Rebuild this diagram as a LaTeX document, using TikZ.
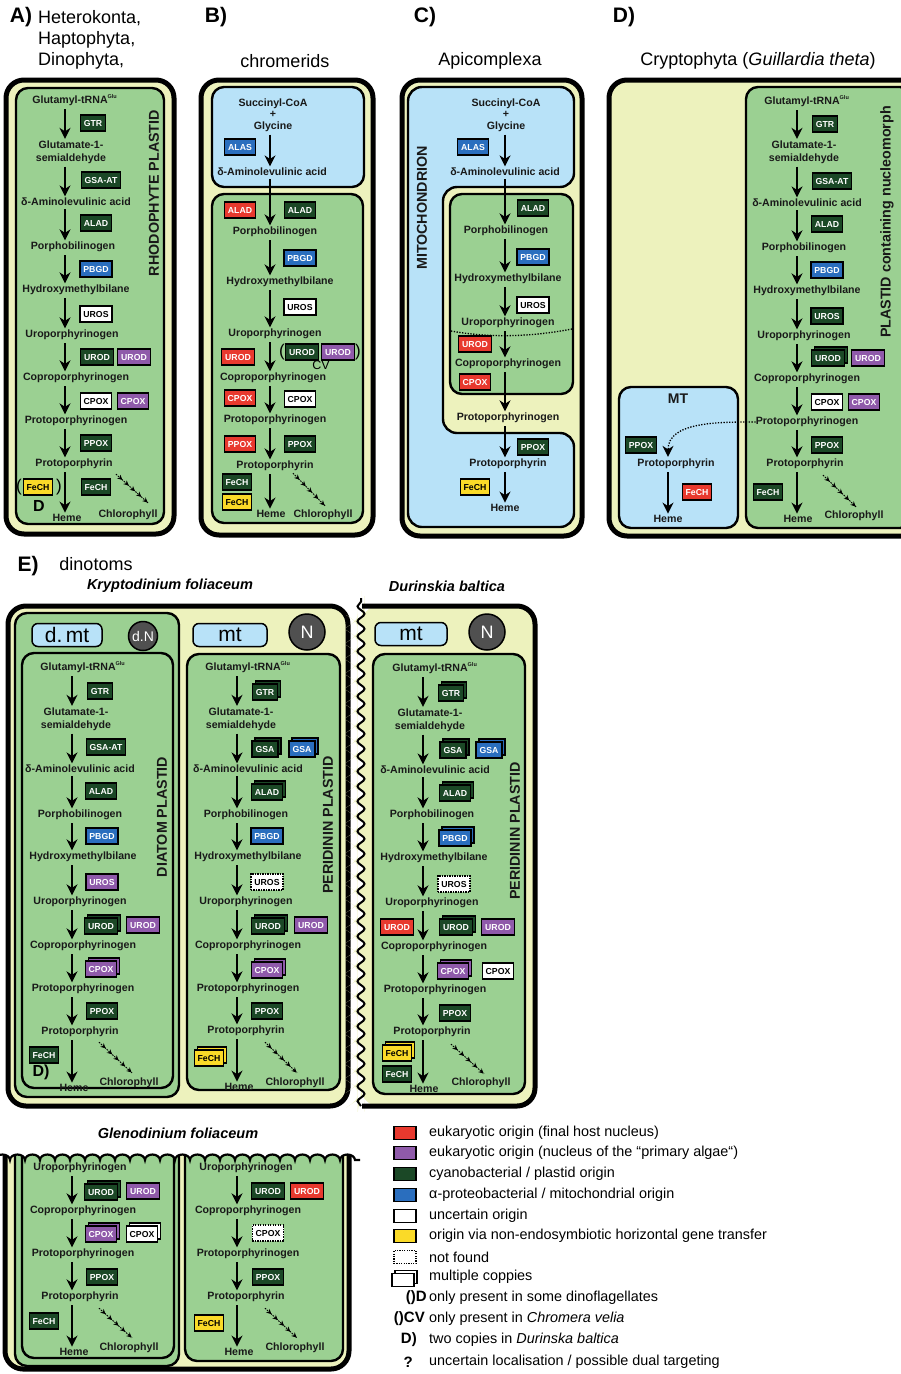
\documentclass[tikz,border=0pt]{standalone}
\usepackage{fontspec}
\setmainfont{Liberation Sans}
\usetikzlibrary{arrows.meta,shadows,decorations.pathmorphing,decorations.markings}

\newcommand{\gluSup}{\rlap{\smash{\raisebox{5.5pt}{\fontsize{5.5}{6}\selectfont Glu}}}}

\begin{document}
\begin{tikzpicture}[x=1pt,y=-1pt,
  cmp/.style={font=\bfseries\fontsize{10.6}{13}\selectfont, align=center, inner sep=0pt, text=ink},
  ez/.style={draw=black, line width=1.2pt, font=\bfseries\fontsize{8.7}{9}\selectfont, text=white,
             inner xsep=3.5pt, inner ysep=0pt, minimum height=16pt, text height=6.3pt, text depth=0pt},
  ezG/.style={ez, fill=cyano},
  ezP/.style={ez, fill=prim},
  ezR/.style={ez, fill=host},
  ezB/.style={ez, fill=alpha},
  ezW/.style={ez, fill=white, text=black},
  ezY/.style={ez, fill=hgt, text=black},
  multi/.style={copy shadow={shadow xshift=3pt, shadow yshift=3pt}},
  ezGm/.style={ezG, multi}, ezPm/.style={ezP, multi}, ezBm/.style={ezB, multi},
  ezYm/.style={ezY, multi}, ezWm/.style={ezW, multi},
  nf/.style={ezW, dash pattern=on 1.4pt off 1.1pt},
  stepar/.style={line width=1.6pt, -{Stealth[length=11pt, width=11pt, inset=3.5pt]}, shorten <=3pt, shorten >=1.5pt},
  chlar/.style={line width=0.9pt, dash pattern=on 1.6pt off 1pt,
    decoration={markings, mark=between positions 0.2 and 0.99 step 0.197 with {\arrow{Stealth[length=5pt, width=5pt]}}},
    postaction={decorate}},
  dotar/.style={line width=1.3pt, dash pattern=on 1.3pt off 1.5pt, -{Stealth[length=11pt, width=11pt, inset=3.5pt]}, shorten >=2pt},
  cell/.style={draw=black, line width=5pt, fill=cytyel, rounded corners=18pt},
  memb/.style={draw=black, line width=2.4pt, rounded corners=12pt},
  rotlab/.style={rotate=90, font=\bfseries\fontsize{14.3}{15}\selectfont, inner sep=0pt, text=ink},
  hdr/.style={font=\fontsize{18}{21}\selectfont, inner sep=0pt},
  tag/.style={font=\bfseries\fontsize{21}{21}\selectfont, inner sep=0pt},
  ttl/.style={font=\bfseries\itshape\fontsize{14.5}{15}\selectfont, inner sep=0pt},
  orgbox/.style={draw=black, line width=1.5pt, fill=mitblue, rounded corners=6pt, minimum height=23pt,
                 inner sep=0pt, font=\fontsize{21}{21}\selectfont},
  nuc/.style={circle, draw=black, line width=1.5pt, fill=nucgray, text=white, inner sep=0pt},
  note/.style={font=\bfseries\fontsize{15}{15}\selectfont, inner sep=0pt},
  lgbox/.style={draw=black, line width=1.3pt, minimum width=22pt, minimum height=13pt, inner sep=0pt},
  lgtxt/.style={font=\fontsize{14.4}{15}\selectfont, inner sep=0pt, anchor=west},
  wavy/.style={decorate, decoration={snake, amplitude=3.5pt, segment length=15pt}},
  bumpy/.style={decorate, decoration={bumps, amplitude=5.5pt, segment length=30pt}}]
  \definecolor{cytyel}{RGB}{237,242,189}
  \definecolor{plgreen}{RGB}{155,208,146}
  \definecolor{mitblue}{RGB}{184,226,248}
  \definecolor{cyano}{RGB}{27,72,38}
  \definecolor{prim}{RGB}{143,90,170}
  \definecolor{host}{RGB}{232,57,46}
  \definecolor{alpha}{RGB}{42,110,190}
  \definecolor{hgt}{RGB}{250,218,40}
  \definecolor{nucgray}{RGB}{80,80,80}
  \definecolor{ink}{RGB}{25,25,25}
  \useasboundingbox (0,0) rectangle (901,1374);

  % ---------- A) red algal plastid
  \node[tag] (aTag) at (21,17) {A)};
  \node[hdr, anchor=north west, align=left] (aHead) at (38,10) {Heterokonta,\\Haptophyta,\\Dinophyta,};
  \draw[cell] (6,80) rectangle (174,534);
  \draw[memb, fill=plgreen] (16,88) rectangle (164,524);
  \node[rotlab] (aLab) at (154,193) {RHODOPHYTE PLASTID};
  \coordinate (ax) at (65,0);
  \foreach \xx/\yy/\nm/\tx in {70/101/a1/{Glutamyl-tRNA\gluSup}, 71/152/a2/{Glutamate-1-\\semialdehyde},
      76/202/a3/{δ-Aminolevulinic acid}, 73/247/a4/Porphobilinogen, 76/290/a5/Hydroxymethylbilane,
      72/335/a6/Uroporphyrinogen, 76/378/a7/Coproporphyrinogen, 76/421/a8/Protoporphyrinogen,
      74/464/a9/Protoporphyrin, 67/518/a10/Heme, 128/515/a11/Chlorophyll}
    \node[cmp] (\nm) at (\xx,\yy) {\tx};
  \foreach \p/\q in {a1/a2,a2/a3,a3/a4,a4/a5,a5/a6,a6/a7,a7/a8,a8/a9,a9/a10}
    \draw[stepar] (ax |- \p.south) -- (ax |- \q.north);
  \draw[chlar] ([shift={(42,5)}]a9.south) -- ([shift={(20,-7)}]a11.north);
  \foreach \xx/\yy/\st/\tx [count=\i] in {93/123/ezG/GTR, 101/180/ezG/GSA-AT, 96/223/ezG/ALAD,
      96/269/ezB/PBGD, 96/314/ezW/UROS, 97/357/ezG/UROD, 134/357/ezP/UROD, 96/401/ezW/CPOX,
      133/401/ezP/CPOX, 96/443/ezG/PPOX, 96/487/ezG/FeCH, 38/487/ezY/FeCH}
    \node[\st] (aE\i) at (\xx,\yy) {\tx};
  \node[font=\fontsize{17}{17}\selectfont, inner sep=0pt] (aPl) at (19,487) {(};
  \node[font=\fontsize{17}{17}\selectfont, inner sep=0pt] (aPr) at (59,487) {)};
  \node[note, font=\bfseries\fontsize{16}{16}\selectfont] (aD) at (39,506) {D};

  % ---------- B) chromerids
  \node[tag] (bTag) at (216,17) {B)};
  \node[hdr] (bHead) at (285,61) {chromerids};
  \draw[cell] (201,80) rectangle (373,535);
  \draw[memb, fill=mitblue] (212,87) rectangle (364,187);
  \draw[memb, fill=plgreen] (212,194) rectangle (363,523);
  \coordinate (bx) at (270,0);
  \foreach \xx/\yy/\nm/\tx in {273/115/b1/{Succinyl-CoA\\[-1.5pt]+\\[-1.5pt]Glycine}, 272/172/b2/{δ-Aminolevulinic acid},
      275/232/b3/Porphobilinogen, 280/282/b4/Hydroxymethylbilane, 275/334/b5/Uroporphyrinogen,
      273/378/b6/Coproporphyrinogen, 275/420/b7/Protoporphyrinogen, 275/466/b8/Protoporphyrin,
      271/514/b9/Heme, 323/515/b10/Chlorophyll}
    \node[cmp] (\nm) at (\xx,\yy) {\tx};
  \foreach \p/\q in {b1/b2,b2/b3,b3/b4,b4/b5,b5/b6,b6/b7,b7/b8,b8/b9}
    \draw[stepar] (bx |- \p.south) -- (bx |- \q.north);
  \draw[chlar] ([shift={(18,2)}]b8.south) -- ([shift={(2,-4)}]b10.north);
  \foreach \xx/\yy/\st/\tx [count=\i] in {240/147/ezB/ALAS, 240/210/ezR/ALAD, 300/210/ezG/ALAD,
      300/258/ezB/PBGD, 300/307/ezW/UROS, 238/357/ezR/UROD, 302/352/ezG/UROD, 338/352/ezP/UROD,
      240/398/ezR/CPOX, 300/399/ezW/CPOX, 240/444/ezR/PPOX, 300/444/ezG/PPOX,
      237/482/ezG/FeCH, 237/502/ezY/FeCH}
    \node[\st] (bE\i) at (\xx,\yy) {\tx};
  \node[font=\fontsize{17}{17}\selectfont, inner sep=0pt] (bPl) at (282,352) {(};
  \node[font=\fontsize{17}{17}\selectfont, inner sep=0pt] (bPr) at (358,352) {)};
  \node[font=\fontsize{12.5}{12.5}\selectfont, inner sep=0pt] (bCV) at (321,365.5) {CV};

  % ---------- C) Apicomplexa
  \node[tag] (cTag) at (425,17) {C)};
  \node[hdr] (cHead) at (490,61) {Apicomplexa};
  \draw[cell] (402,80) rectangle (582,536);
  \draw[memb, fill=mitblue, rounded corners=14pt] (408,300) -- (408,87) -- (574,87) -- (574,187) -- (443,187)
    -- (443,433) -- (574,433) -- (574,527) -- (408,527) -- cycle;
  \draw[memb, fill=plgreen] (450,194) rectangle (573,394);
  \node[rotlab] (cLab) at (422,208) {MITOCHONDRION};
  \coordinate (cx) at (505,0);
  \foreach \xx/\yy/\nm/\tx in {506/115/c1/{Succinyl-CoA\\[-1.5pt]+\\[-1.5pt]Glycine}, 505/172/c2/{δ-Aminolevulinic acid},
      506/231/c3/Porphobilinogen, 508/279/c4/Hydroxymethylbilane, 508/323/c5/Uroporphyrinogen,
      508/364/c6/Coproporphyrinogen, 508/418/c7/Protoporphyrinogen, 508/464/c8/Protoporphyrin,
      505/508/c9/Heme}
    \node[cmp] (\nm) at (\xx,\yy) {\tx};
  \foreach \p/\q in {c1/c2,c2/c3,c3/c4,c4/c5,c5/c6,c6/c7,c7/c8,c8/c9}
    \draw[stepar] (cx |- \p.south) -- (cx |- \q.north);
  \draw[line width=1.3pt, dash pattern=on 1.3pt off 1.5pt] (451,331) .. controls (490,338) and (530,337) .. (572,329);
  \foreach \xx/\yy/\st/\tx [count=\i] in {473/147/ezB/ALAS, 533/208/ezG/ALAD, 533/257/ezB/PBGD,
      533/305/ezW/UROS, 475/344/ezR/UROD, 475/382/ezR/CPOX, 533/447/ezG/PPOX, 475/487/ezY/FeCH}
    \node[\st] (cE\i) at (\xx,\yy) {\tx};

  % ---------- D) Cryptophyta
  \node[tag] (dTag) at (624,17) {D)};
  \node[hdr] (dHead) at (758,61) {Cryptophyta (\textit{Guillardia theta})};
  \draw[cell] (609,80) rectangle (920,536);
  \draw[memb, fill=plgreen] (746,87) rectangle (912,528);
  \draw[memb, fill=mitblue] (619,387) rectangle (738,528);
  \node[rotlab] (dLab) at (887,222) {PLASTID containing nucleomorph};
  \coordinate (dx) at (797,0);
  \foreach \xx/\yy/\nm/\tx in {802/102/d1/{Glutamyl-tRNA\gluSup}, 804/152/d2/{Glutamate-1-\\semialdehyde},
      807/203/d3/{δ-Aminolevulinic acid}, 804/248/d4/Porphobilinogen, 807/291/d5/Hydroxymethylbilane,
      804/336/d6/Uroporphyrinogen, 807/379/d7/Coproporphyrinogen, 807/422/d8/Protoporphyrinogen,
      805/464/d9/Protoporphyrin, 798/519/d10/Heme, 854/516/d11/Chlorophyll}
    \node[cmp] (\nm) at (\xx,\yy) {\tx};
  \foreach \p/\q in {d1/d2,d2/d3,d3/d4,d4/d5,d5/d6,d6/d7,d7/d8,d8/d9,d9/d10}
    \draw[stepar] (dx |- \p.south) -- (dx |- \q.north);
  \draw[chlar] ([shift={(18,6)}]d9.south) -- ([shift={(2,-4)}]d11.north);
  \node[cmp, font=\bfseries\fontsize{14}{14}\selectfont] (m1) at (678,399) {MT};
  \node[cmp] (m2) at (676,464) {Protoporphyrin};
  \node[cmp] (m3) at (668,519) {Heme};
  \coordinate (mx) at (668,0);
  \draw[stepar] (mx |- m2.south) -- (mx |- m3.north);
  \draw[dotar] (d8.west) to[out=180, in=90] (mx |- m2.north);
  \foreach \xx/\yy/\st/\tx [count=\i] in {825/124/ezG/GTR, 832/181/ezG/GSA-AT, 827/224/ezG/ALAD,
      827/270/ezB/PBGD, 827/316/ezG/UROS, 828/358/ezGm/UROD, 868/358/ezP/UROD, 827/402/ezW/CPOX,
      864/402/ezP/CPOX, 827/445/ezG/PPOX, 768/492/ezG/FeCH, 641/445/ezG/PPOX, 697/492/ezR/FeCH}
    \node[\st] (dE\i) at (\xx,\yy) {\tx};

  % ---------- E) dinotoms
  \node[tag] (eTag) at (28,566) {E)};
  \node[hdr] (eHead) at (96,564) {dinotoms};
  \node[ttl] (kTitle) at (170,586) {Kryptodinium foliaceum};
  \node[ttl] (uTitle) at (447,586) {Durinskia baltica};

  % Kryptodinium cell
  \draw[cell] (8,606) rectangle (348,1106);
  \draw[memb, fill=plgreen] (15,613) rectangle (179,1097);
  \draw[memb, fill=plgreen] (22,653) rectangle (173,1088);
  \draw[memb, fill=plgreen] (187,654) rectangle (340,1090);
  \node[orgbox, minimum width=70pt] (kdmt) at (67,635) {d.\,mt};
  \node[nuc, minimum size=29pt, font=\fontsize{14}{14}\selectfont] (kdN) at (143,636) {d.N};
  \node[orgbox, minimum width=74pt] (kmt) at (230,635) {mt};
  \node[nuc, minimum size=36pt, font=\fontsize{18}{18}\selectfont] (kN) at (307,632) {N};
  \node[rotlab] (kLab) at (162,817) {DIATOM PLASTID};
  \node[rotlab] (rLab) at (328,825) {PERIDININ PLASTID};
  \coordinate (kx) at (72,0);
  \foreach \xx/\yy/\nm/\tx in {78/668/k1/{Glutamyl-tRNA\gluSup}, 76/719/k2/{Glutamate-1-\\semialdehyde},
      80/769/k3/{δ-Aminolevulinic acid}, 80/815/k4/Porphobilinogen, 83/857/k5/Hydroxymethylbilane,
      80/902/k6/Uroporphyrinogen, 83/946/k7/Coproporphyrinogen, 83/989/k8/Protoporphyrinogen,
      80/1032/k9/Protoporphyrin, 74/1088/k10/Heme, 129/1083/k11/Chlorophyll}
    \node[cmp] (\nm) at (\xx,\yy) {\tx};
  \foreach \p/\q in {k1/k2,k2/k3,k3/k4,k4/k5,k5/k6,k6/k7,k7/k8,k8/k9,k9/k10}
    \draw[stepar] (kx |- \p.south) -- (kx |- \q.north);
  \draw[chlar] ([shift={(19,5)}]k9.south) -- ([shift={(3,-5)}]k11.north);
  \foreach \xx/\yy/\st/\tx [count=\i] in {100/691/ezG/GTR, 106/747/ezG/GSA-AT, 101/791/ezG/ALAD,
      102/836/ezB/PBGD, 102/882/ezP/UROS, 101/926/ezGm/UROD, 143/925/ezP/UROD, 101/969/ezPm/CPOX,
      102/1011/ezG/PPOX, 44/1055/ezG/FeCH}
    \node[\st] (kE\i) at (\xx,\yy) {\tx};
  \node[note, font=\bfseries\fontsize{16}{16}\selectfont] (kD) at (41,1072) {D)};
  \coordinate (rx) at (237,0);
  \foreach \xx/\yy/\nm/\tx in {243/668/r1/{Glutamyl-tRNA\gluSup}, 241/719/r2/{Glutamate-1-\\semialdehyde},
      248/769/r3/{δ-Aminolevulinic acid}, 246/815/r4/Porphobilinogen, 248/857/r5/Hydroxymethylbilane,
      246/902/r6/Uroporphyrinogen, 248/946/r7/Coproporphyrinogen, 248/989/r8/Protoporphyrinogen,
      246/1031/r9/Protoporphyrin, 239/1087/r10/Heme, 295/1083/r11/Chlorophyll}
    \node[cmp] (\nm) at (\xx,\yy) {\tx};
  \foreach \p/\q in {r1/r2,r2/r3,r3/r4,r4/r5,r5/r6,r6/r7,r7/r8,r8/r9,r9/r10}
    \draw[stepar] (rx |- \p.south) -- (rx |- \q.north);
  \draw[chlar] ([shift={(19,6)}]r9.south) -- ([shift={(2,-5)}]r11.north);
  \foreach \xx/\yy/\st/\tx [count=\i] in {265/692/ezGm/GTR, 265/749/ezGm/GSA, 302/749/ezBm/GSA,
      267/792/ezGm/ALAD, 267/836/ezB/PBGD, 267/882/nf/UROS, 268/926/ezGm/UROD, 311/925/ezP/UROD,
      267/970/ezPm/CPOX, 267/1011/ezG/PPOX, 209/1058/ezYm/FeCH}
    \node[\st] (rE\i) at (\xx,\yy) {\tx};

  % Durinskia cell (cut on the left)
  \fill[cytyel, rounded corners=18pt] (361,1106) decorate[decoration={snake, amplitude=3.5pt, segment length=15pt}] {-- (361,606)}
    -- (535,606) -- (535,1106) -- cycle;
  \draw[line width=5pt, rounded corners=18pt] (362,606) -- (535,606) -- (535,1106) -- (362,1106);
  \draw[line width=2pt, wavy] (361,1106) -- (361,598);
  \draw[memb, fill=plgreen] (373,654) rectangle (525,1094);
  \node[orgbox, minimum width=72pt] (umt) at (411,634) {mt};
  \node[nuc, minimum size=36pt, font=\fontsize{18}{18}\selectfont] (uN) at (487,632) {N};
  \node[rotlab] (uLab) at (515,831) {PERIDININ PLASTID};
  \coordinate (ux) at (423,0);
  \foreach \xx/\yy/\nm/\tx in {430/669/u1/{Glutamyl-tRNA\gluSup}, 430/720/u2/{Glutamate-1-\\semialdehyde},
      435/770/u3/{δ-Aminolevulinic acid}, 432/815/u4/Porphobilinogen, 434/858/u5/Hydroxymethylbilane,
      432/903/u6/Uroporphyrinogen, 434/947/u7/Coproporphyrinogen, 435/990/u8/Protoporphyrinogen,
      432/1032/u9/Protoporphyrin, 424/1089/u10/Heme, 481/1083/u11/Chlorophyll}
    \node[cmp] (\nm) at (\xx,\yy) {\tx};
  \foreach \p/\q in {u1/u2,u2/u3,u3/u4,u4/u5,u5/u6,u6/u7,u7/u8,u8/u9,u9/u10}
    \draw[stepar] (ux |- \p.south) -- (ux |- \q.north);
  \draw[chlar] ([shift={(19,7)}]u9.south) -- ([shift={(3,-4)}]u11.north);
  \foreach \xx/\yy/\st/\tx [count=\i] in {451/693/ezGm/GTR, 453/750/ezGm/GSA, 489/750/ezBm/GSA,
      455/793/ezGm/ALAD, 455/838/ezBm/PBGD, 454/884/nf/UROS, 397/927/ezR/UROD, 456/927/ezGm/UROD,
      498/927/ezP/UROD, 453/971/ezPm/CPOX, 498/971/ezW/CPOX, 455/1013/ezG/PPOX,
      397/1053/ezYm/FeCH, 397/1074/ezG/FeCH}
    \node[\st] (uE\i) at (\xx,\yy) {\tx};

  % Glenodinium cell (cut on top)
  \draw[cell] (5,1120) rectangle (349,1369);
  \draw[memb, fill=plgreen] (15,1120) rectangle (179,1366);
  \draw[memb, fill=plgreen] (22,1120) rectangle (174,1358);
  \draw[memb, fill=plgreen] (185,1120) rectangle (343,1361);
  \coordinate (glx) at (72,0);
  \coordinate (grx) at (237,0);
  \foreach \xx/\yy/\nm/\tx in {80/1168/gl1/Uroporphyrinogen, 83/1211/gl2/Coproporphyrinogen,
      83/1254/gl3/Protoporphyrinogen, 80/1297/gl4/Protoporphyrin, 74/1352/gl5/Heme, 129/1348/gl6/Chlorophyll,
      246/1168/gr1/Uroporphyrinogen, 248/1211/gr2/Coproporphyrinogen, 248/1254/gr3/Protoporphyrinogen,
      246/1297/gr4/Protoporphyrin, 239/1352/gr5/Heme, 295/1348/gr6/Chlorophyll}
    \node[cmp] (\nm) at (\xx,\yy) {\tx};
  \foreach \p/\q in {gl1/gl2,gl2/gl3,gl3/gl4,gl4/gl5}
    \draw[stepar] (glx |- \p.south) -- (glx |- \q.north);
  \foreach \p/\q in {gr1/gr2,gr2/gr3,gr3/gr4,gr4/gr5}
    \draw[stepar] (grx |- \p.south) -- (grx |- \q.north);
  \draw[chlar] ([shift={(19,6)}]gl4.south) -- ([shift={(3,-5)}]gl6.north);
  \draw[chlar] ([shift={(19,6)}]gr4.south) -- ([shift={(2,-5)}]gr6.north);
  \foreach \xx/\yy/\st/\tx [count=\i] in {101/1192/ezGm/UROD, 143/1191/ezP/UROD, 101/1234/ezPm/CPOX,
      142/1234/ezWm/CPOX, 102/1277/ezG/PPOX, 44/1321/ezG/FeCH,
      268/1191/ezG/UROD, 307/1191/ezR/UROD, 268/1233/nf/CPOX, 268/1277/ezG/PPOX, 209/1323/ezY/FeCH}
    \node[\st] (gE\i) at (\xx,\yy) {\tx};
  \fill[white] (-5,1112) -- (-5,1160) decorate[decoration={bumps, amplitude=5.5pt, segment length=30pt}] {-- (360,1160)}
    -- (360,1112) -- cycle;
  \draw[line width=2.2pt, bumpy] (-5,1160) -- (360,1160);
  \node[ttl] (gTitle) at (178,1133) {Glenodinium foliaceum};

  % ---------- legend
  \foreach \yy/\cl/\tx [count=\i] in {1133/host/{eukaryotic origin (final host nucleus)},
      1153/prim/{eukaryotic origin (nucleus of the “primary algae“)},
      1174/cyano/{cyanobacterial / plastid origin},
      1195/alpha/{α-proteobacterial / mitochondrial origin},
      1216/white/{uncertain origin},
      1236/hgt/{origin via non-endosymbiotic horizontal gene transfer}}
  {
    \node[lgbox, fill=\cl] (lg\i) at (405,\yy) {};
    \node[lgtxt] (lt\i) at (429,\yy) {\tx};
  }
  \node[lgbox, fill=white, dash pattern=on 1.2pt off 1.2pt] (lg7) at (405,1257) {};
  \node[lgtxt] (lt7) at (429,1257) {not found};
  \node[lgbox, fill=white, copy shadow={shadow xshift=3pt, shadow yshift=3pt}] (lg8) at (403,1280) {};
  \node[lgtxt] (lt8) at (429,1277) {multiple coppies};
  \foreach \xx/\yy/\pf/\tx [count=\i from 9] in {427/1298/{()D}/{only present in some dinoflagellates},
      425/1319/{()CV}/{only present in \textit{Chromera velia}},
      417/1340/{D)}/{two copies in \textit{Durinska baltica}},
      413/1362/{?}/{uncertain localisation / possible dual targeting}}
  {
    \node[note, anchor=east] (lp\i) at (\xx,\yy) {\pf};
    \node[lgtxt] (lt\i) at (429,\yy) {\tx};
  }
\end{tikzpicture}
\end{document}
